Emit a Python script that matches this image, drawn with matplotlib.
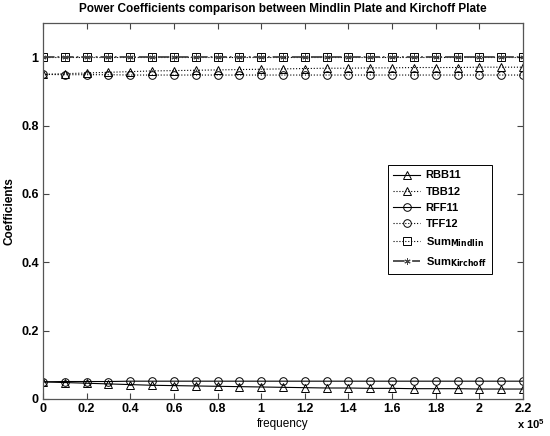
import matplotlib
matplotlib.use("Agg")
import matplotlib.pyplot as plt
import numpy as np
from matplotlib.ticker import FuncFormatter

plt.rcParams['font.family'] = ['Liberation Sans', 'DejaVu Sans']
plt.rcParams['mathtext.default'] = 'regular'

# frequency axis (Hz)
freq = np.arange(0, 230000, 10000)

# reflected / transmitted power coefficients
rbb11 = [0.050, 0.048, 0.046, 0.044, 0.042, 0.040, 0.039, 0.038, 0.037,
         0.036, 0.035, 0.034, 0.033, 0.032, 0.032, 0.031, 0.031, 0.030,
         0.030, 0.030, 0.029, 0.029, 0.029]
tbb12 = [0.950, 0.952, 0.954, 0.956, 0.958, 0.960, 0.961, 0.962, 0.963,
         0.964, 0.965, 0.966, 0.967, 0.968, 0.968, 0.969, 0.969, 0.970,
         0.970, 0.970, 0.971, 0.971, 0.971]
rff11 = [0.050, 0.051, 0.051, 0.051, 0.052, 0.052, 0.052, 0.052, 0.052,
         0.052, 0.052, 0.052, 0.052, 0.052, 0.052, 0.052, 0.052, 0.052,
         0.052, 0.052, 0.052, 0.052, 0.052]
tff12 = [0.950, 0.949, 0.949, 0.949, 0.948, 0.948, 0.948, 0.948, 0.948,
         0.948, 0.948, 0.948, 0.948, 0.948, 0.948, 0.948, 0.948, 0.948,
         0.948, 0.948, 0.948, 0.948, 0.948]
sum_mindlin = [1.0] * len(freq)
sum_kirchoff = [1.0] * len(freq)

fig = plt.figure(figsize=(5.5, 4.36), dpi=100)
ax = fig.add_axes([0.078, 0.085, 0.873, 0.862])

lw = 0.8
ms = 5.5
ax.plot(freq, rbb11, '-', marker='^', color='k', mfc='none', lw=lw, ms=ms, mew=0.7, label='RBB11')
ax.plot(freq, tbb12, ':', marker='^', color='k', mfc='none', lw=lw, ms=ms, mew=0.7, label='TBB12')
ax.plot(freq, rff11, '-', marker='o', color='k', mfc='none', lw=lw, ms=ms, mew=0.7, label='RFF11')
ax.plot(freq, tff12, ':', marker='o', color='k', mfc='none', lw=lw, ms=ms, mew=0.7, label='TFF12')
ax.plot(freq, sum_mindlin, ':', marker='s', color='k', mfc='none', lw=lw, ms=ms, mew=0.7,
        label=r'Sum$_{\mathbf{Mindlin}}$')
ax.plot(freq, sum_kirchoff, '-.', marker=(6, 2, 0), color='#444444', lw=1.3, ms=ms - 1, mew=0.7,
        label=r'Sum$_{\mathbf{Kirchoff}}$')

ax.set_xlim(0, 220000)
ax.set_ylim(0, 1.1)
ax.set_xticks(np.arange(0, 220001, 20000))
ax.set_yticks([0, 0.2, 0.4, 0.6, 0.8, 1.0])
ax.xaxis.set_major_formatter(FuncFormatter(lambda v, p: '%g' % round(v / 1e5, 2)))
ax.yaxis.set_major_formatter(FuncFormatter(lambda v, p: '%g' % round(v, 2)))
ax.tick_params(direction='in', length=4, top=True, right=True, labelsize=9, pad=3,
               color='#444444')
for lab in ax.get_xticklabels() + ax.get_yticklabels():
    lab.set_fontweight('bold')
for spine in ax.spines.values():
    spine.set_color('#555555')
    spine.set_linewidth(0.9)

ax.set_xlabel('frequency', fontsize=8.5, labelpad=2)
ax.set_ylabel('Coefficients', fontsize=8.5, fontweight='bold', labelpad=4)
ax.set_title('Power Coefficients comparison between Mindlin Plate and Kirchoff Plate',
             fontsize=8.5, fontweight='bold', pad=8)
ax.text(1.045, -0.068, r'x 10$^5$', transform=ax.transAxes, ha='right', va='center',
        fontsize=8, fontweight='bold')

leg = ax.legend(loc='upper left', bbox_to_anchor=(0.708, 0.636),
                prop={'weight': 'bold', 'size': 8}, fancybox=False, framealpha=1,
                edgecolor='k', handlelength=2.4, handletextpad=0.5,
                labelspacing=0.55, borderpad=0.45)
leg.get_frame().set_linewidth(0.7)

fig.savefig('out.png', dpi=100)
